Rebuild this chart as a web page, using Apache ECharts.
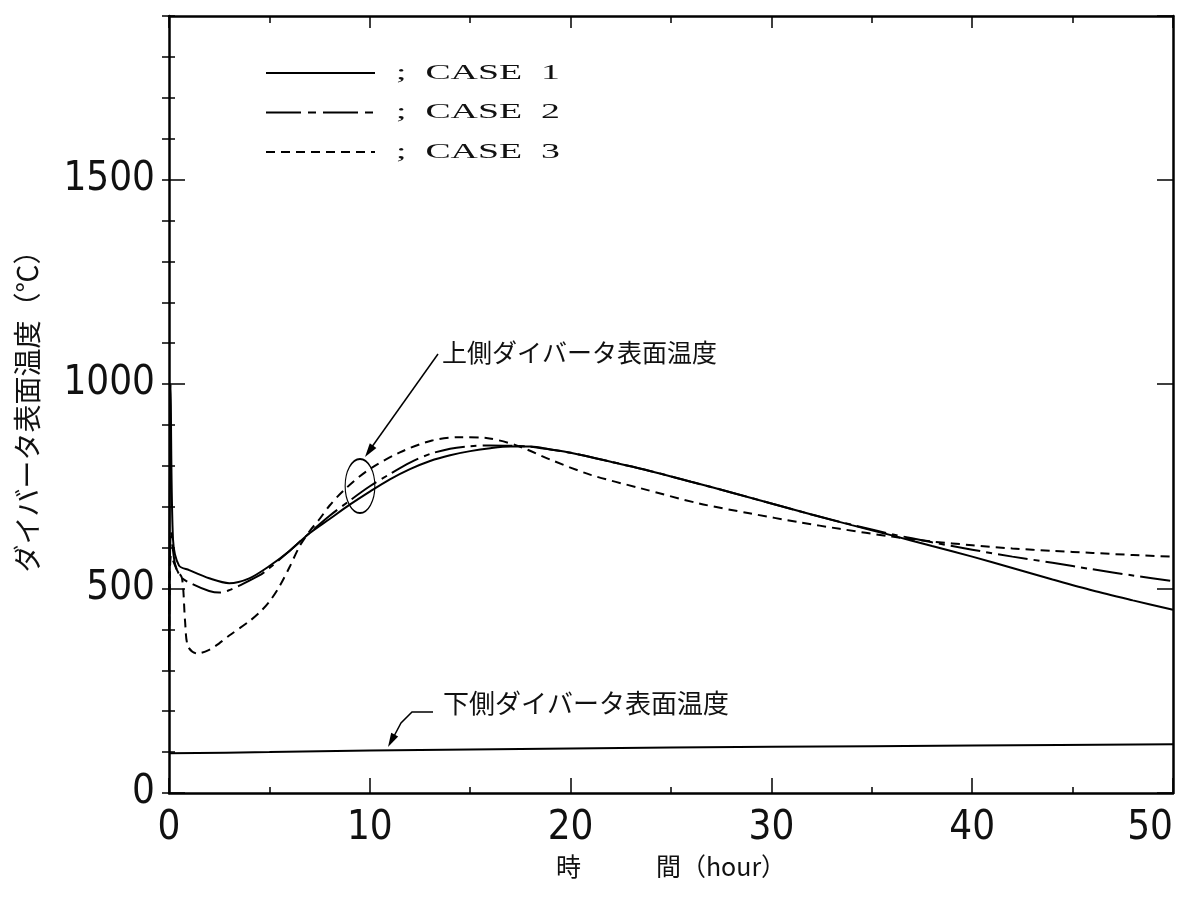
<!DOCTYPE html>
<html>
<head>
<meta charset="utf-8">
<script src="https://cdn.jsdelivr.net/npm/echarts@6/dist/echarts.min.js"></script>
<style>
  html, body { margin: 0; background: #fff; }
  #chart { width: 1185px; height: 897px; }
</style>
</head>
<body>
<div id="chart"></div>
<script>
// --- Data: [hour, degC] ---
const case1 = [[0,300],[0.08,1000],[0.2,620],[0.5,556],[1,545],[2,525],[3,513],[4,525],[5,555],[6,592],[7,635],[8,670],[9,705],[10,737],[11,767],[12,792],[13,812],[14,826],[15,836],[16,843],[17,847],[18,847],[19,840],[20,832],[22,810],[24,787],[26,761],[28,735],[30,708],[32,681],[34,655],[36,630],[38,604],[40,578],[42,550],[44,522],[46,495],[48,471],[50,448]];
const case2 = [[0,320],[0.1,640],[0.3,560],[0.6,528],[1.2,510],[2,494],[2.5,490],[3,496],[3.5,507],[4.5,532],[5,550],[6,592],[7,636],[8,678],[9,715],[10,750],[11,780],[12,808],[13,829],[14,842],[15,848],[16,850],[17,849],[18,847],[19,840],[20,832],[22,810],[24,787],[26,761],[28,735],[30,708],[32,681],[34,656],[36,633],[38,613],[40,595],[42,578],[44,563],[46,547],[48,532],[50,518]];
const case3 = [[0,300],[0.1,580],[0.4,545],[0.65,525],[0.8,420],[0.95,358],[1.4,341],[2,350],[2.5,366],[3,385],[4,420],[4.5,441],[5,468],[5.5,505],[6,552],[6.5,603],[7,640],[7.5,670],[8,703],[8.7,740],[9.9,789],[11.5,833],[13.1,862],[14.5,870],[15.8,868],[17.3,850],[19,815],[21,778],[23.5,745],[26.4,708],[28.9,684],[31.4,662],[33.4,646],[36,627],[38,615],[40,606],[42,598],[44,592],[46,587],[48,582],[50,578]];
// lower divertor surface temperature (same for all cases)
const lowerDivertor = [[0,97],[5,100],[10,104],[20,109],[30,113],[40,116],[50,119]];

const caseNames = ['; CASE 1', '; CASE 2', '; CASE 3'];
const caseDash = ['solid', [30, 6, 6, 6], [9, 6]];
const legendDash = [null, [35, 7, 8, 7], [9, 6]];

const xName = '時　　　間（hour）';
const yName = 'ダイバータ表面温度（℃）';
const upperLabel = '上側ダイバータ表面温度';
const lowerLabel = '下側ダイバータ表面温度';

const numFont = "'Liberation Sans Narrow', 'DejaVu Sans Condensed', 'Liberation Sans', sans-serif";
const jpFont = "'Noto Sans CJK JP', sans-serif";
const serifFont = "'Liberation Serif', 'DejaVu Serif', serif";

const chart = echarts.init(document.getElementById('chart'));

const ink = '#000';
const frame = { show: true, onZero: false, lineStyle: { color: ink, width: 2.5 } };

function xAxis(position, major, minor, showLabel) {
    return {
        type: 'value', min: 0, max: 50, interval: 10, position: position,
        axisLine: frame,
        axisTick: { inside: true, length: major, lineStyle: { color: ink, width: 1.5 } },
        minorTick: { show: true, splitNumber: 2, length: minor, lineStyle: { color: ink, width: 1.5 } },
        splitLine: { show: false },
        axisLabel: {
            show: showLabel, margin: 16, fontSize: 40, color: '#111', fontFamily: numFont,
            alignMaxLabel: 'right'
        },
        name: showLabel ? xName : '',
        nameLocation: 'middle', nameGap: 56,
        nameTextStyle: { fontSize: 25, color: '#111', fontFamily: jpFont }
    };
}

function yAxis(position, interval, tickLen, showLabel, showLine) {
    return {
        type: 'value', min: 0, max: 1900, interval: interval, position: position,
        axisLine: showLine ? frame : { show: false },
        axisTick: { inside: true, length: tickLen, lineStyle: { color: ink, width: 1.5 } },
        splitLine: { show: false },
        axisLabel: {
            show: showLabel, showMaxLabel: false, margin: 14, fontSize: 40, color: '#111', fontFamily: numFont,
            formatter: v => String(v)
        },
        name: showLabel ? yName : '',
        nameLocation: 'middle', nameRotate: 90, nameGap: 128,
        nameTextStyle: { fontSize: 28, color: '#111', fontFamily: jpFont }
    };
}

function lineSeries(name, data, type, width) {
    return {
        name: name, type: 'line', data: data,
        xAxisIndex: 0, yAxisIndex: 0,
        showSymbol: false, symbol: 'none',
        smooth: 0.3,
        lineStyle: { color: ink, width: width, type: type },
        z: 3
    };
}

// legend drawn by hand so the dash-dot pattern shows
const legendItems = [];
caseNames.forEach((nm, i) => {
    const y = 73 + i * 39.5;
    legendItems.push({
        type: 'line', shape: { x1: 266, y1: y, x2: 375, y2: y },
        style: { stroke: ink, lineWidth: 2, lineDash: legendDash[i] }
    });
    legendItems.push({
        type: 'text', x: 396, y: y, scaleX: 1.8,
        style: { text: nm.replace(' ', '  ').replace('E ', 'E  '), font: '21px ' + serifFont, fill: '#111', verticalAlign: 'middle' }
    });
});

const notes = [
    { type: 'text', x: 442, y: 352, style: { text: upperLabel, font: '25px ' + jpFont, fill: '#111', verticalAlign: 'middle' } },
    { type: 'line', shape: { x1: 438, y1: 354, x2: 369, y2: 451 }, style: { stroke: ink, lineWidth: 1.5 } },
    { type: 'polygon', shape: { points: [[365, 457], [376.4, 447.9], [369.8, 443.3]] }, style: { fill: ink } },
    { type: 'circle', x: 360, y: 486, scaleX: 0.55, shape: { cx: 0, cy: 0, r: 27 }, style: { fill: 'none', stroke: ink, lineWidth: 2 } },
    { type: 'text', x: 443, y: 703, style: { text: lowerLabel, font: '26px ' + jpFont, fill: '#111', verticalAlign: 'middle' } },
    { type: 'polyline', shape: { points: [[433, 712], [412, 712], [401, 723], [392, 740]] }, style: { stroke: ink, lineWidth: 1.5, fill: 'none' } },
    { type: 'polygon', shape: { points: [[388, 747], [398.2, 736.6], [391.2, 732.8]] }, style: { fill: ink } }
];

const option = {
    animation: false,
    backgroundColor: '#fff',
    grid: { left: 169, right: 12, top: 16, bottom: 104, containLabel: false, outerBoundsMode: 'none' },
    xAxis: [xAxis('bottom', 15, 6, true), xAxis('top', 12, 7, false)],
    yAxis: [
        yAxis('left', 500, 16, true, true),
        yAxis('left', 100, 6, false, false),
        yAxis('right', 500, 16, false, true),
        yAxis('right', 100, 7, false, false)
    ],
    series: [
        lineSeries(caseNames[0], case1, caseDash[0], 2),
        lineSeries(caseNames[1], case2, caseDash[1], 2),
        lineSeries(caseNames[2], case3, caseDash[2], 2),
        lineSeries('lower', lowerDivertor, 'solid', 2)
    ],
    graphic: legendItems.concat(notes)
};

chart.setOption(option);
</script>
</body>
</html>
